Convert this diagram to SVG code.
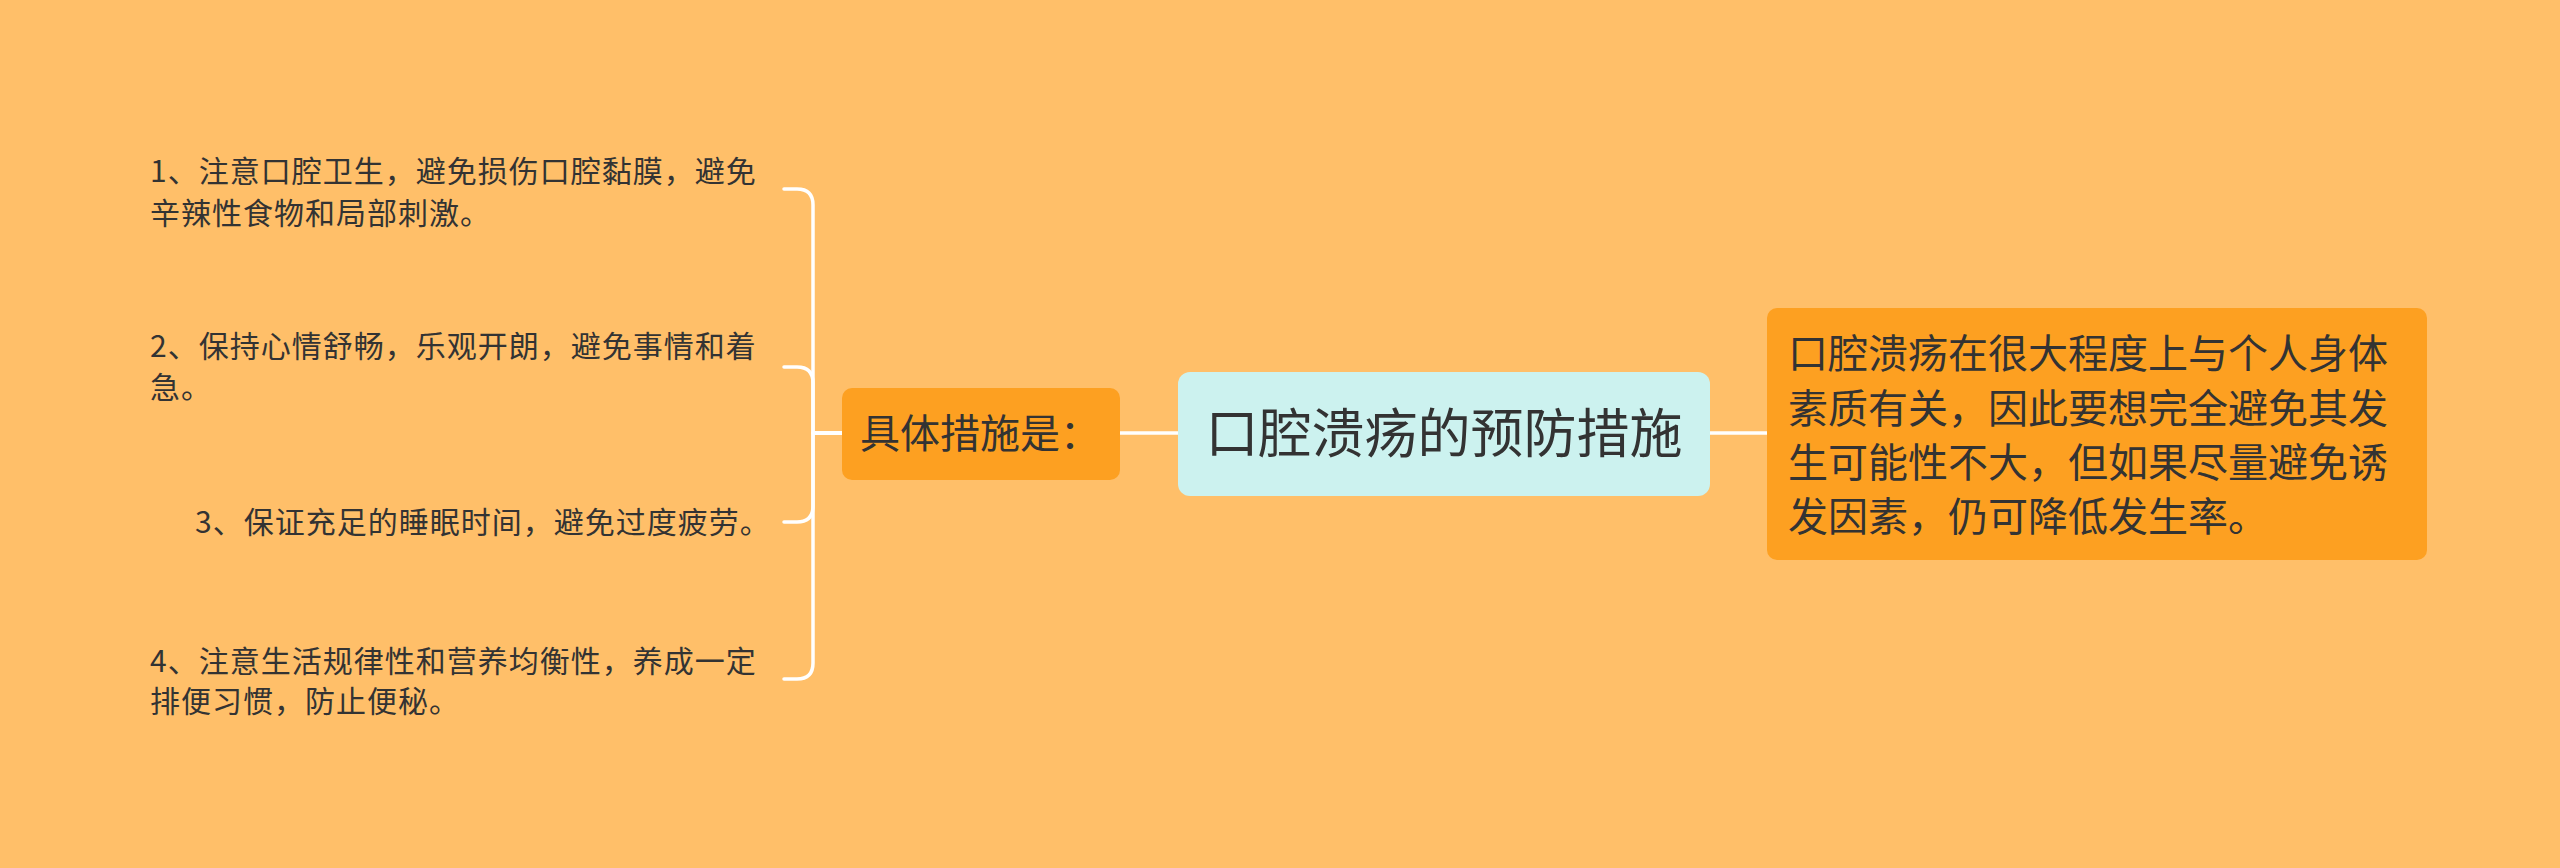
<svg xmlns="http://www.w3.org/2000/svg" width="2560" height="868" viewBox="0 0 2560 868">
<style>
.t{font-family:"Noto Sans CJK SC","Liberation Sans",sans-serif;fill:#333333}
.item{font-size:30px;letter-spacing:1px}
.big{font-size:53px}
.mid{font-size:40px}
.orange{fill:#FDA021}
.conn{fill:none;stroke:#FFFFFF;stroke-width:3.5;stroke-linecap:round;stroke-linejoin:round}
</style>
<rect x="0" y="0" width="2560" height="868" fill="#FFBF69"/>
<g id="connectors">
<path class="conn" d="M1120 433 H1178"/>
<path class="conn" d="M1710 433 H1767"/>
<path class="conn" d="M842 433 H813 V205 Q813 189 797 189 H784"/>
<path class="conn" d="M842 433 H813 V383 Q813 367 797 367 H784"/>
<path class="conn" d="M842 433 H813 V506 Q813 522 797 522 H784"/>
<path class="conn" d="M842 433 H813 V663 Q813 679 797 679 H784"/>
</g>
<g id="center">
<rect x="1178" y="372" width="532" height="124" rx="12" fill="#CCF2EF"/>
<text class="t big" x="1444" y="453" text-anchor="middle">口腔溃疡的预防措施</text>
</g>
<g id="specific">
<rect class="orange" x="842" y="388" width="278" height="92" rx="10"/>
<text class="t mid" x="860" y="448">具体措施是：</text>
</g>
<g id="summary">
<rect class="orange" x="1767" y="308" width="660" height="252" rx="10"/>
<text class="t mid" x="1788" y="368">口腔溃疡在很大程度上与个人身体</text>
<text class="t mid" x="1788" y="423">素质有关，因此要想完全避免其发</text>
<text class="t mid" x="1788" y="477">生可能性不大，但如果尽量避免诱</text>
<text class="t mid" x="1788" y="531">发因素，仍可降低发生率。</text>
</g>
<g id="item1">
<text class="t item" x="150" y="182">1、注意口腔卫生，避免损伤口腔黏膜，避免</text>
<text class="t item" x="150" y="224">辛辣性食物和局部刺激。</text>
</g>
<g id="item2">
<text class="t item" x="150" y="357">2、保持心情舒畅，乐观开朗，避免事情和着</text>
<text class="t item" x="150" y="398">急。</text>
</g>
<g id="item3">
<text class="t item" x="195" y="533">3、保证充足的睡眠时间，避免过度疲劳。</text>
</g>
<g id="item4">
<text class="t item" x="150" y="672">4、注意生活规律性和营养均衡性，养成一定</text>
<text class="t item" x="150" y="712">排便习惯，防止便秘。</text>
</g>
</svg>
